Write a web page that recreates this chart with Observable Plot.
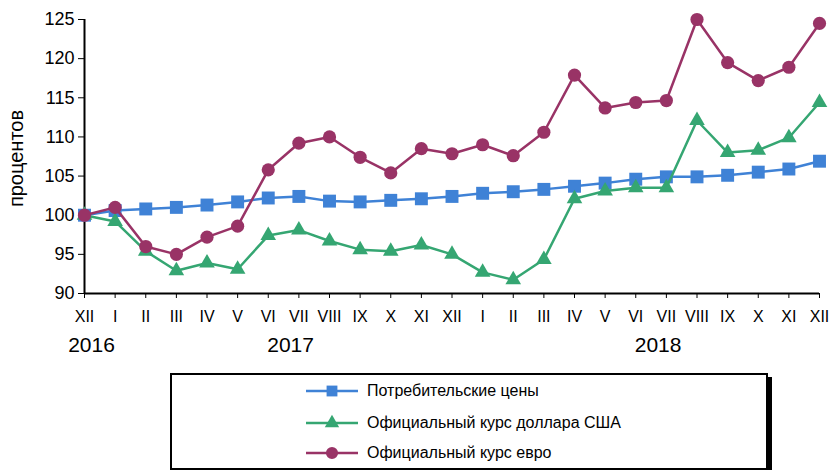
<!DOCTYPE html>
<html><head><meta charset="utf-8">
<script src="https://cdn.jsdelivr.net/npm/d3@7"></script>
<script src="https://cdn.jsdelivr.net/npm/@observablehq/plot@0.6"></script>
<style>
body{margin:0;background:#fff;font-family:"Liberation Sans",Arial,sans-serif;}
#legend{position:relative;margin-left:170px;margin-top:5px;width:594px;height:93px;border:2px solid #000;box-shadow:4px 4px 0 #000;background:#fff;box-sizing:content-box;}
.row{position:absolute;left:134px;display:flex;align-items:center;font-size:16px;color:#000;}
.row svg{margin-right:9px;}
</style></head><body>
<div id="chart"></div>
<div id="legend"></div>
<script>
const months = ["XII","I","II","III","IV","V","VI","VII","VIII","IX","X","XI","XII","I","II","III","IV","V","VI","VII","VIII","IX","X","XI","XII"];
const monthYear = [2016,2017,2017,2017,2017,2017,2017,2017,2017,2017,2017,2017,2017,2018,2018,2018,2018,2018,2018,2018,2018,2018,2018,2018,2018];
const years = [2016,2017,2018];
const cpi = [100,100.6,100.8,101.0,101.3,101.7,102.2,102.4,101.8,101.7,101.9,102.1,102.4,102.8,103.0,103.3,103.7,104.1,104.6,104.9,104.9,105.1,105.5,105.9,106.9];
const usd = [100,99.2,95.4,92.9,93.9,93.1,97.4,98.1,96.7,95.6,95.4,96.2,95.0,92.7,91.75,94.35,102.1,103.1,103.5,103.5,112.1,108.0,108.3,109.9,114.4];
const eur = [100,101.0,96.0,95.0,97.2,98.6,105.8,109.2,110.0,107.4,105.4,108.5,107.85,109.0,107.6,110.6,117.9,113.7,114.4,114.65,125.0,119.5,117.2,118.9,124.5];
const seriesNames = ["Потребительские цены","Официальный курс доллара США","Официальный курс евро"];
const yLabel = "процентов";
const colors = ["#3f82d6","#35a672","#993366"];
const symbols = ["square","triangle","circle"];
const radii = [7.3,5.8,6.6];
const yTicks = [90,95,100,105,110,115,120,125];

const idx = d3.range(months.length);
const series = [cpi, usd, eur];
const yearData = years.map(y => ({year: y, i: d3.mean(idx.filter(i => monthYear[i] === y))}));

const marks = [
  Plot.axisY({ticks: yTicks, tickSize: 6, tickPadding: 4, fontSize: 18, label: null}),
  Plot.axisX({ticks: idx, tickFormat: i => months[i], tickSize: 5, tickPadding: 12, fontSize: 16, label: null}),
  Plot.text([yLabel], {text: d => d, frameAnchor: "left", textAnchor: "middle", dx: -68, dy: 2, rotate: -90, fontSize: 20}),
  Plot.ruleX([0], {y1: 90, y2: 125, stroke: "#000", strokeWidth: 2}),
  Plot.ruleY([90], {x1: 0, x2: 24, stroke: "#000", strokeWidth: 2}),
  Plot.text(yearData, {x: "i", text: d => String(d.year), frameAnchor: "bottom", dy: 52, dx: 7, fontSize: 21, lineAnchor: "middle"})
];
series.forEach((vals, s) => {
  const data = idx.map(i => ({i, v: vals[i]}));
  marks.push(Plot.line(data, {x: "i", y: "v", stroke: colors[s], strokeWidth: 2.5}));
  marks.push(Plot.dot(data, {x: "i", y: "v", symbol: () => symbols[s], fill: colors[s], r: radii[s], stroke: "none"}));
});

const chart = Plot.plot({
  width: 831, height: 368,
  marginLeft: 84, marginRight: 12, marginTop: 19, marginBottom: 75,
  style: {fontFamily: '"Liberation Sans", Arial, sans-serif', color: "#000", background: "#fff", overflow: "visible"},
  x: {domain: [0, 24], axis: null},
  y: {domain: [90, 125], axis: null},
  symbol: {type: "identity"},
  marks
});
document.getElementById("chart").appendChild(chart);

const legend = document.getElementById("legend");
const rowTops = [4, 36, 66];
seriesNames.forEach((name, s) => {
  const row = document.createElement("div");
  row.className = "row";
  row.style.top = rowTops[s] + "px";
  const sym = d3.symbol(s === 0 ? d3.symbolSquare : s === 1 ? d3.symbolTriangle : d3.symbolCircle, Math.PI * radii[s] * radii[s] * (s===0?0.7:0.85))();
  row.innerHTML = `<svg width="52" height="24"><line x1="0" x2="52" y1="12" y2="12" stroke="${colors[s]}" stroke-width="2.5"/><path d="${sym}" transform="translate(26,12)" fill="${colors[s]}"/></svg><span>${name}</span>`;
  legend.appendChild(row);
});
</script>
</body></html>
